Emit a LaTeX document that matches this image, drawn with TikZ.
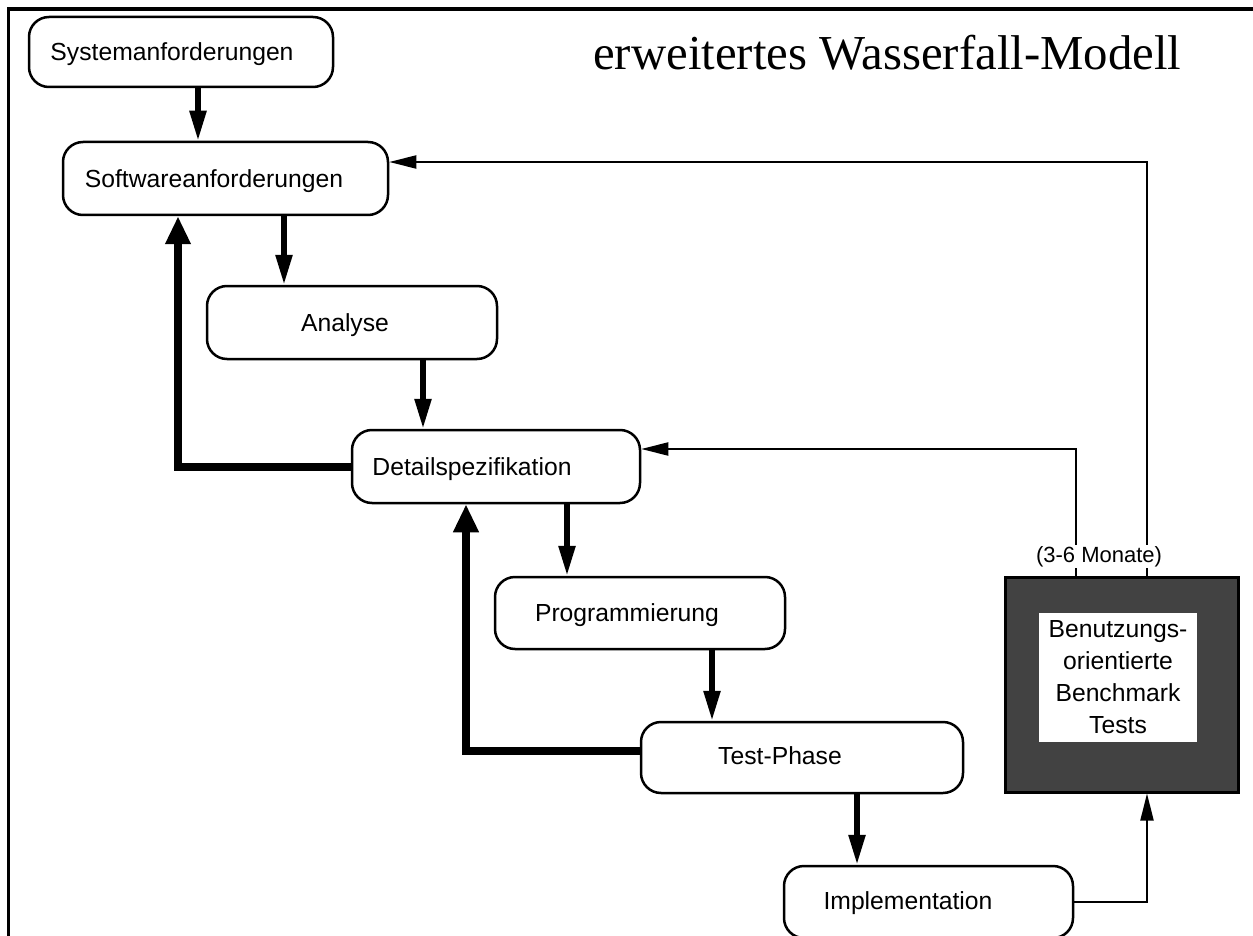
\documentclass[tikz,border=0pt]{standalone}
\usepackage{fontspec}
\setmainfont{Liberation Sans}
\newfontfamily\titlefont{Liberation Serif}
\usetikzlibrary{arrows.meta}
\definecolor{benchgray}{RGB}{66,66,66}
\begin{document}
\begin{tikzpicture}[x=1pt,y=-1pt,
  box/.style={draw, line width=2.5pt, rounded corners=20pt, inner sep=0pt},
  lbl/.style={font=\fontsize{24.7}{30}\selectfont, inner sep=0pt, anchor=base},
  down/.style={line width=5.5pt, -{Triangle[length=30pt,width=16pt]}},
  back/.style={line width=8pt, -{Triangle[length=28pt,width=24pt]}},
  thin/.style={line width=2pt, -{Triangle[length=27pt,width=13pt]}},
]
\useasboundingbox (0,0) rectangle (1253,936);
\clip (0,0) rectangle (1253,936);
\draw[line width=3.5pt] (8.5,9) rectangle (1275,960);

% title
\node[font=\titlefont\fontsize{48.8}{58}\selectfont, anchor=base west, inner sep=0pt] (title) at (593,70) {erweitertes Wasserfall-Modell};

% boxes
\node[box, minimum width=304pt, minimum height=70pt] (sys) at (181,52) {};
\node[lbl] (sysT) at (172,61) {Systemanforderungen};

\node[box, minimum width=325pt, minimum height=73pt] (soft) at (225.5,178.5) {};
\node[lbl] (softT) at (214,187.5) {Softwareanforderungen};

\node[box, minimum width=290pt, minimum height=73pt] (ana) at (352,322.5) {};
\node[lbl] (anaT) at (345,331.5) {Analyse};

\node[box, minimum width=288pt, minimum height=73pt] (det) at (496,466.5) {};
\node[lbl] (detT) at (472,475.5) {Detailspezifikation};

\node[box, minimum width=290pt, minimum height=72pt] (prog) at (640,613) {};
\node[lbl] (progT) at (627,621) {Programmierung};

\node[box, minimum width=322pt, minimum height=71pt] (test) at (802,757.5) {};
\node[lbl] (testT) at (780,764) {Test-Phase};

\node[box, minimum width=289pt, minimum height=72pt] (impl) at (928.5,902) {};
\node[lbl] (implT) at (908,909) {Implementation};

% benchmark box
\node[draw, line width=3pt, fill=benchgray, minimum width=233pt, minimum height=215pt, inner sep=0pt] (bench) at (1121.5,684.5) {};
\node[fill=white, minimum width=158pt, minimum height=129pt, inner sep=0pt, align=center,
      font=\fontsize{24.7}{32}\selectfont] (benchT) at (1118,677.5)
      {Benutzungs-\\orientierte\\Benchmark\\Tests};

% forward arrows
\draw[down] ([xshift=17pt]sys.south) -- ([xshift=17pt]sys.south |- soft.north);
\draw[down] ([xshift=58.5pt]soft.south) -- ([xshift=-68pt]ana.north);
\draw[down] ([xshift=71pt]ana.south) -- ([xshift=-73pt]det.north);
\draw[down] ([xshift=71pt]det.south) -- ([xshift=-73pt]prog.north);
\draw[down] ([xshift=72pt]prog.south) -- ([xshift=-90pt]test.north);
\draw[down] ([xshift=55pt]test.south) -- ([xshift=-71.5pt]impl.north);

% feedback arrows
\draw[back] (det.west) -| ([xshift=-47.5pt]soft.south);
\draw[back] ([yshift=6.5pt]test.west) -| ([xshift=-30pt]det.south);

% thin connectors
\draw[thin] ([xshift=25.5pt]bench.north) |- ([yshift=16.5pt]soft.east);
\draw[thin] ([xshift=-45.5pt]bench.north) |- ([yshift=17.5pt]det.east);
\draw[thin] (impl.east) -| ([xshift=25.5pt]bench.south);

\node[fill=white, inner sep=1pt, anchor=base, font=\fontsize{22}{26}\selectfont] (mon) at (1099,562) {(3-6 Monate)};
\end{tikzpicture}
\end{document}
